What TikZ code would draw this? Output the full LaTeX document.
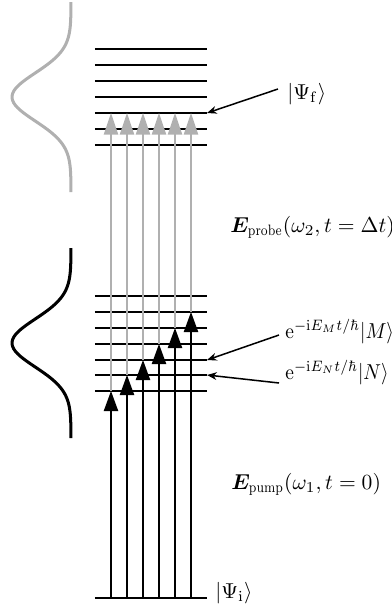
\documentclass[tikz,border=0pt]{standalone}
\usepackage{amsmath,bm}
\usetikzlibrary{arrows.meta}
\definecolor{lgrey}{RGB}{176,176,176}
\newcommand{\nsub}[1]{\scalebox{0.8}[1]{$\scriptstyle\mathrm{#1}$}}
\newcommand{\narrow}[1]{\scalebox{0.9}[1]{#1}}
\tikzset{
  level/.style={line width=0.75pt},
  pumparrow/.style={line width=0.7pt,-{Triangle[length=9.3pt,width=6.6pt]}},
  probearrow/.style={line width=0.7pt,draw=lgrey,-{Triangle[length=10pt,width=6.6pt]},lgrey},
  labarrow/.style={line width=0.7pt,-{Stealth[length=4.5pt,width=3.6pt]}},
  gauss/.style={line width=1.4pt,smooth},
  lab/.style={inner sep=0pt,anchor=base west}
}
\begin{document}
\begin{tikzpicture}[x=0.4637pt,y=-0.4637pt]
\useasboundingbox (0,0) rectangle (392,608);
% upper levels
\foreach \yy in {49,65,81,97,113,129,145}{\draw[level] (95,\yy) -- (207,\yy);}
% middle levels
\foreach \yy in {296,312,328,344,360,375,391}{\draw[level] (95,\yy) -- (207,\yy);}
% ground level
\draw[level] (95,598) -- (207,598);
% gaussians
\draw[gauss,lgrey,domain=2:192,samples=80,variable=\t] plot ({71-59*exp(-((\t-97)^2)/(2*24^2))},\t);
\draw[gauss,black,domain=248:438,samples=80,variable=\t] plot ({71-59*exp(-((\t-343)^2)/(2*24^2))},\t);
% arrow coordinates
\foreach \i/\xx/\tt in {1/111/391,2/127/375,3/143/360,4/159/344,5/175/328,6/191/312}{
  \coordinate (b\i) at (\xx,598);
  \coordinate (t\i) at (\xx,\tt);
  \coordinate (g\i) at (\xx,113);
}
\foreach \i in {1,...,6}{\draw[probearrow] (t\i) -- (g\i);}
\foreach \i in {1,...,6}{\draw[pumparrow] (b\i) -- (t\i);}
% label targets
\coordinate (f) at (207,113);
\coordinate (m) at (207,360);
\coordinate (n) at (207,375);
% labels
\node[lab] (psif) at (287,99) {$|\Psi_{\mathrm{f}}\rangle$};
\node[lab] (probe) at (230,232) {$\bm{E}_{\nsub{probe}}(\omega_2,t=\Delta t)$};
\node[lab] (lm) at (285,338) {\narrow{$\mathrm{e}^{-\mathrm{i}E_Mt/\hbar}|M\rangle$}};
\node[lab] (ln) at (285,379) {\narrow{$\mathrm{e}^{-\mathrm{i}E_Nt/\hbar}|N\rangle$}};
\node[lab] (pump) at (231,489) {$\bm{E}_{\nsub{pump}}(\omega_1,t=0)$};
\node[lab] (psii) at (215,598) {$|\Psi_{\mathrm{i}}\rangle$};
\draw[labarrow] (278,89) -- (f);
\draw[labarrow] (279,335) -- (m);
\draw[labarrow] (279,383) -- (n);
\end{tikzpicture}
\end{document}
